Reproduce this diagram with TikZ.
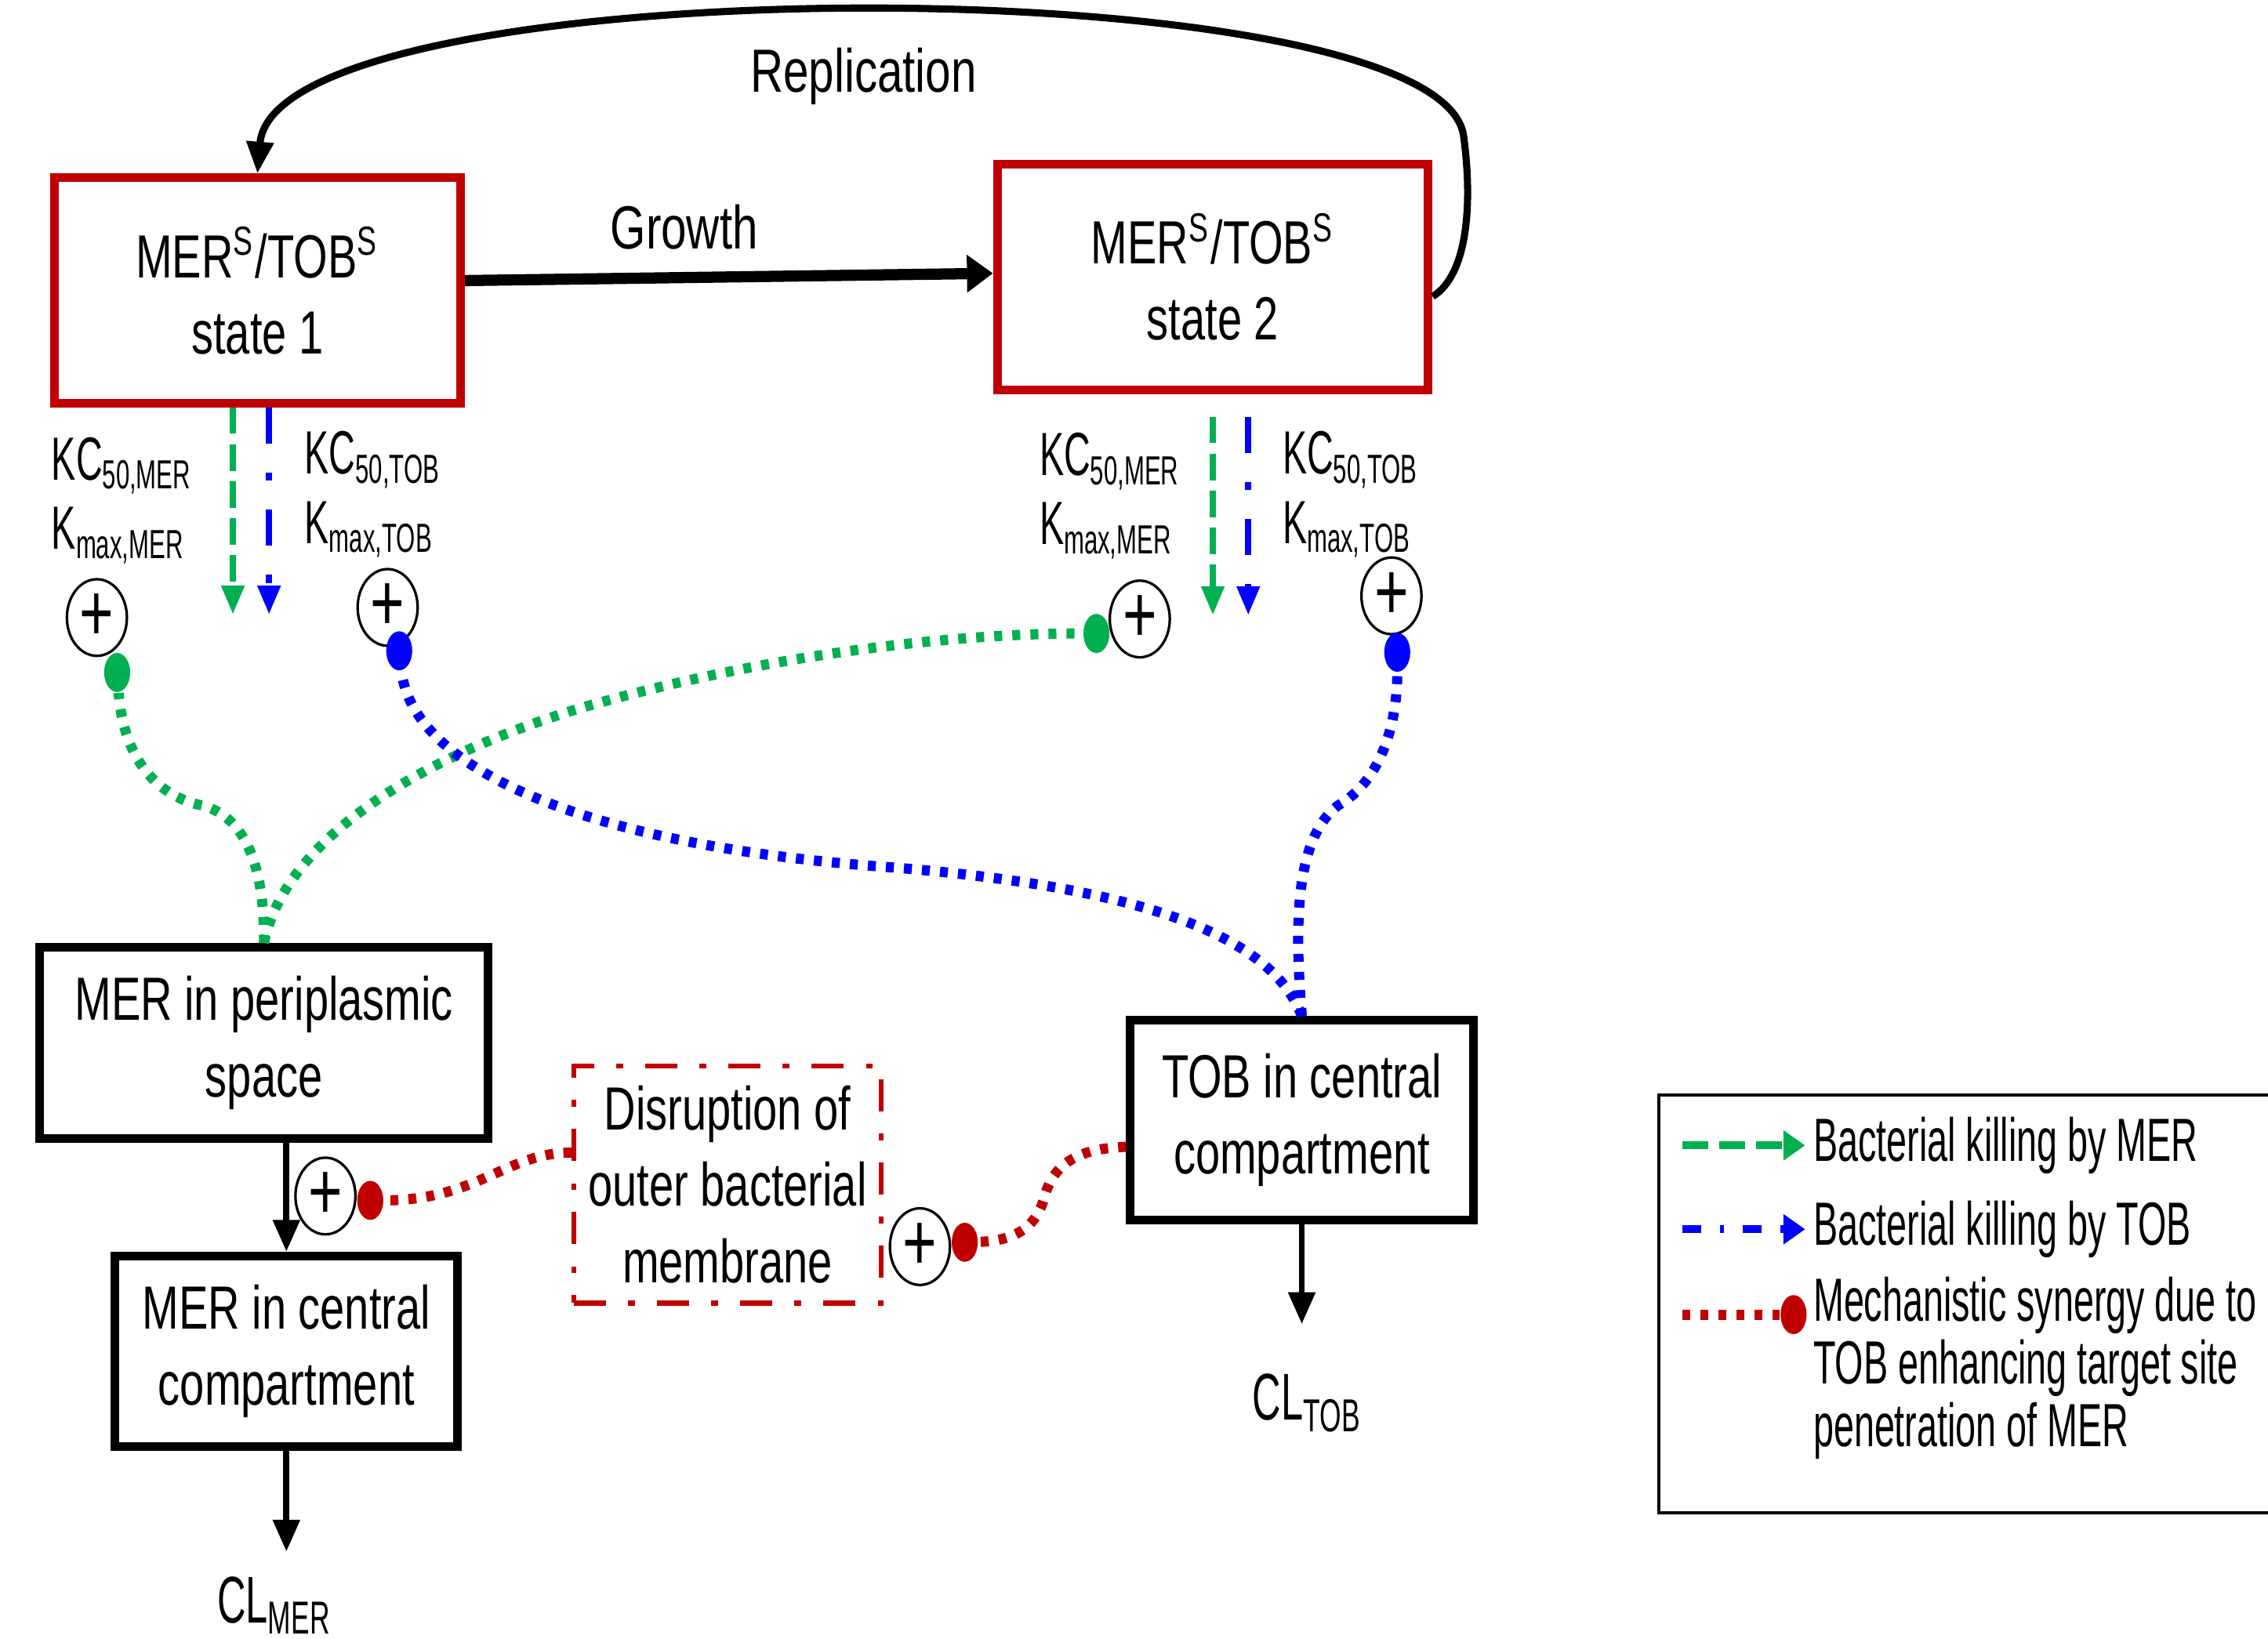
\documentclass[tikz,border=0pt]{standalone}
\usepackage{fontspec}
\setmainfont{Liberation Sans}[FakeStretch=0.72]
\newfontfamily\widefont{Liberation Sans}[FakeStretch=0.75]
\newfontfamily\narrowfont{Liberation Sans}[FakeStretch=0.6]
\usetikzlibrary{arrows.meta, shapes.geometric, positioning}

\definecolor{boxred}{RGB}{192,0,0}
\definecolor{mergreen}{RGB}{0,176,80}
\definecolor{tobblue}{RGB}{0,0,255}

\begin{document}
\begin{tikzpicture}[
    x=0.1mm, y=-0.1mm, % one unit per pixel of the sketch
    font=\fontsize{12}{15}\selectfont,
    statebox/.style={draw=boxred, line width=1.7pt, align=center,
      minimum width=28.1mm, minimum height=15.6mm}, % bacterial states
    compbox/.style={draw, line width=1.7pt, align=center,
      minimum width=23.7mm, minimum height=13.2mm}, % drug compartments
    flow/.style={->, line width=1.2pt, >={Triangle[length=2.2mm, width=1.8mm]}},
    killmer/.style={->, mergreen, line width=1.3pt, dash pattern=on 1.8mm off 0.75mm,
      >={Triangle[length=2mm, width=1.5mm]}}, % killing by MER
    killtob/.style={->, tobblue, line width=1.3pt,
      dash pattern=on 2.5mm off 2mm on 0.55mm off 2mm,
      >={Triangle[length=2mm, width=1.5mm]}}, % killing by TOB
    link/.style={line width=2pt, dash pattern=on 0.55mm off 0.7mm}, % dotted effect links
    killdot/.style={ellipse, fill, inner sep=0pt, minimum width=1.8mm, minimum height=2.7mm},
    plussign/.style={ellipse, draw, line width=0.5pt, inner sep=0pt,
      minimum width=4.15mm, minimum height=5.3mm, font=\fontsize{16}{16}\selectfont},
    klabel/.style={anchor=west, align=left, inner sep=0pt,
      font=\narrowfont\fontsize{12}{13.6}\selectfont}, % KC50 / Kmax labels
    cllabel/.style={font=\narrowfont\fontsize{13}{15}\selectfont},
    toplabel/.style={font=\widefont\fontsize{12}{15}\selectfont},
    legtext/.style={anchor=west, align=left, inner sep=0pt,
      font=\narrowfont\fontsize{12}{12.4}\selectfont}
]
    \useasboundingbox (0,0) rectangle (1568,1133);

    % Bacterial states
    \node[statebox] (s1) at (178,201) {MER\textsuperscript{S}/TOB\textsuperscript{S}\\state 1};
    \node[statebox, minimum width=29.8mm] (s2) at (838.5,191.5) {MER\textsuperscript{S}/TOB\textsuperscript{S}\\state 2};

    % Growth and replication
    \draw[->, line width=2.2pt, >={Triangle[length=1.8mm, width=2.5mm]}]
      ([yshift=0.7mm]s1.east) -- ([yshift=0.25mm]s2.west);
    \node[toplabel] (grow) at (473,157) {Growth};
    \draw[->, line width=1.4pt, >={Triangle[length=2.2mm, width=1.8mm]}]
      ([yshift=-1.35mm]s2.east) .. controls (1015,190) and (1018,140) .. (1012,95)
      .. controls (1000,-25) and (190,-25) .. (s1.north);
    \node[toplabel] (rep) at (597,53) {Replication};

    % Killing arrows and their parameters
    \draw[killmer] ([xshift=-1.7mm]s1.south) -- ++(0,143);
    \draw[killtob] ([xshift=0.8mm]s1.south) -- ++(0,143);
    \draw[killmer] ([yshift=-1.6mm]s2.south) -- ++(0,137);
    \draw[killtob] ([xshift=2.45mm, yshift=-1.6mm]s2.south) -- ++(0,137);

    \node[klabel] (kc1m) at (35,346) {KC\textsubscript{50,MER}\\K\textsubscript{max,MER}};
    \node[klabel] (kc1t) at (210,342) {KC\textsubscript{50,TOB}\\K\textsubscript{max,TOB}};
    \node[klabel] (kc2m) at (718,343) {KC\textsubscript{50,MER}\\K\textsubscript{max,MER}};
    \node[klabel] (kc2t) at (886,342) {KC\textsubscript{50,TOB}\\K\textsubscript{max,TOB}};

    % Stimulation signs
    \node[plussign] (p1) at (67,427) {+};
    \node[plussign] (p2) at (268,420) {+};
    \node[plussign] (p3) at (788,428) {+};
    \node[plussign] (p4) at (962,412) {+};
    \node[plussign] (p5) at (225,827) {+};
    \node[plussign] (p6) at (636,862) {+};

    \node[killdot, mergreen] (g1) at (81,465) {};
    \node[killdot, mergreen] (g2) at (758,438) {};
    \node[killdot, tobblue] (b1) at (276,450) {};
    \node[killdot, tobblue] (b2) at (966,451) {};
    \node[killdot, boxred] (r1) at (256,830) {};
    \node[killdot, boxred] (r2) at (667,859) {};

    % Compartments
    \node[compbox, minimum width=31mm] (mp) at (182.5,721) {MER in periplasmic\\space};
    \node[compbox] (mc) at (198,934.5) {MER in central\\compartment};
    \node[compbox, minimum height=13.8mm] (tc) at (900,774.5) {TOB in central\\compartment};
    \node[draw=boxred, line width=1pt, dash pattern=on 2.2mm off 1.55mm on 0.45mm off 1.55mm,
      minimum width=21.2mm, minimum height=16.4mm, inner xsep=1mm, align=center] (db) at (503,819)
      {Disruption of\\outer bacterial\\membrane};

    \draw[flow] (mc.north |- mp.south) -- (mc.north);

    % Clearance
    \node[cllabel] (clm) at (190,1110) {CL\textsubscript{MER}};
    \node[cllabel] (clt) at (904,970) {CL\textsubscript{TOB}};
    \draw[flow, shorten >=0.5mm] (mc.south) -- (mc.south |- clm.north);
    \draw[flow, shorten >=2.2mm] (tc.south) -- (tc.south |- clt.north);

    % Drug effect links
    \draw[link, mergreen] (mp.north) .. controls (183,600) and (170,565) .. (140,557)
      .. controls (105,550) and (85,520) .. (g1);
    \draw[link, mergreen] (mp.north) .. controls (195,590) and (270,530) .. (400,490)
      .. controls (520,455) and (650,438) .. (g2);
    \draw[link, tobblue] (tc.north) .. controls (880,650) and (800,615) .. (620,600)
      .. controls (400,585) and (285,530) .. (b1);
    \draw[link, tobblue] (tc.north) .. controls (895,640) and (895,580) .. (925,557)
      .. controls (955,540) and (966,500) .. (b2);
    \draw[link, boxred] ([yshift=2.2mm]db.west) .. controls (350,797) and (330,830) .. (r1);
    \draw[link, boxred] ([yshift=-1.85mm]tc.west) .. controls (745,794) and (728,805) .. (722,828)
      .. controls (716,850) and (700,858) .. (r2);

    % Legend
    \draw[line width=0.6pt] (1147,757) rectangle (1590,1046);
    \node[legtext] (lg1) at (1253,792) {Bacterial killing by MER};
    \node[legtext] (lg2) at (1253,850) {Bacterial killing by TOB};
    \node[legtext] (lg3) at (1253,946) {Mechanistic synergy due to\\TOB enhancing target site\\penetration of MER};
    \coordinate (ls1) at (1163,792);
    \coordinate (ls2) at (1163,850);
    \coordinate (ls3) at (1163,909);
    \node[killdot, boxred] (lgd) at (1240,909) {};
    \draw[killmer, line width=1.6pt, >={Triangle[length=1.5mm, width=2mm]}] (ls1) -- ([xshift=-0.5mm]lg1.west);
    \draw[killtob, line width=1.6pt, dash pattern=on 1.3mm off 1.3mm on 0.3mm off 1.3mm,
      >={Triangle[length=1.5mm, width=2mm]}] (ls2) -- ([xshift=-0.5mm]lg2.west);
    \draw[link, boxred] (ls3) -- (lgd);

\end{tikzpicture}
\end{document}
